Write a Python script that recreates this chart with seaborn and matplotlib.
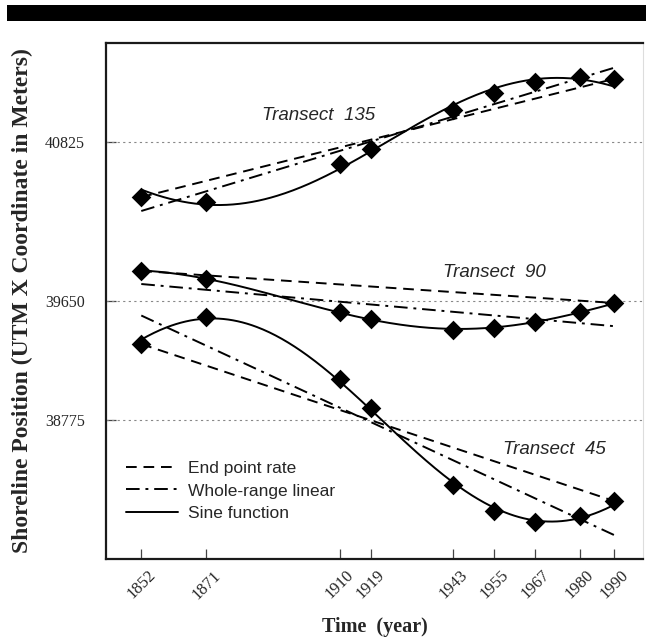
import numpy as np
import pandas as pd
import matplotlib
matplotlib.use("Agg")
import matplotlib.pyplot as plt
from matplotlib.lines import Line2D
from matplotlib.patches import Rectangle
import seaborn as sns

years = [1852, 1871, 1910, 1919, 1943, 1955, 1967, 1980, 1990]
transect_135 = [40419, 40383, 40663, 40773, 41061, 41186, 41267, 41304, 41290]
transect_90 = [39874, 39815, 39572, 39520, 39439, 39453, 39498, 39572, 39638]
transect_45 = [39335, 39535, 39077, 38864, 38296, 38104, 38023, 38067, 38178]
y_ticks = [38775, 39650, 40825]
series_labels = ["Transect 135", "Transect 90", "Transect 45"]
legend_labels = ["End point rate", "Whole-range linear", "Sine function"]

sns.set_theme(style="white")
plt.rcParams["font.family"] = ["Liberation Serif", "DejaVu Serif"]

fig = plt.figure(figsize=(6.46, 6.39), dpi=100)
ax = fig.add_axes([106/646, 1-559/639, (643-106)/646, (559-43)/639])

# header bar of the scanned page
fig.patches.append(Rectangle((7/646, 1-21/639), 1-7/646, 16/639, transform=fig.transFigure,
                             facecolor="black", edgecolor="none"))

all_series = [transect_135, transect_90, transect_45]


def joint_sine_fit(t, ys):
    """Sine fits sharing one period, chosen by least squares over all transects."""
    t = np.asarray(t, float) - 1920.0
    best = None
    for P in np.arange(140.0, 300.0, 0.5):
        w = 2*np.pi/P
        A = np.column_stack([np.sin(w*t), np.cos(w*t), np.ones_like(t)])
        coefs, r = [], 0.0
        for y in ys:
            c, *_ = np.linalg.lstsq(A, np.asarray(y, float), rcond=None)
            coefs.append(c)
            r += np.sum((A @ c - y)**2)
        if best is None or r < best[0]:
            best = (r, w, coefs)
    _, w, coefs = best
    funcs = []
    for c in coefs:
        funcs.append(lambda x, c=c: c[0]*np.sin(w*(np.asarray(x, float)-1920.0))
                     + c[1]*np.cos(w*(np.asarray(x, float)-1920.0)) + c[2])
    return funcs

sine_funcs = joint_sine_fit(years, all_series)

dash = (0, (5.5, 3.5))
dashdot = (0, (7, 3, 1.5, 3))
lw = 1.4

for vals, f in zip(all_series, sine_funcs):
    df = pd.DataFrame({"year": years, "pos": vals})
    # end point rate
    ends = df.iloc[[0, -1]]
    sns.lineplot(data=ends, x="year", y="pos", ax=ax, color="black", lw=lw,
                 linestyle=dash, zorder=3)
    # whole range linear regression
    sns.regplot(data=df, x="year", y="pos", ax=ax, scatter=False, ci=None,
                truncate=True, line_kws=dict(color="black", lw=lw, linestyle=dashdot, zorder=3))
    # sine function
    xs = np.linspace(years[0], years[-1], 300)
    sns.lineplot(x=xs, y=f(xs), ax=ax, color="black", lw=lw, zorder=4)
    sns.scatterplot(data=df, x="year", y="pos", ax=ax, marker="D", s=100,
                    color="black", edgecolor="black", linewidth=0, zorder=5)

ax.set_xlim(1841.7, 1998.5)
ax.set_ylim(37750, 41555)
ax.set_xticks(years)
ax.set_xticklabels([str(y) for y in years], rotation=45, ha="center", fontsize=12)
ax.set_yticks(y_ticks)
ax.set_yticklabels([str(v) for v in y_ticks], fontsize=11.5)
for v in y_ticks:
    ax.axhline(v, color="#888888", lw=0.8, linestyle=(0, (2, 3)), zorder=1)
ax.tick_params(axis="both", direction="in", length=7, width=0.9, color="#444444",
               bottom=True, left=True, pad=6)
ax.tick_params(axis="y", pad=15)

for s in ["left", "bottom", "top"]:
    ax.spines[s].set_color("#1a1a1a")
    ax.spines[s].set_linewidth(1.6)
ax.spines["right"].set_color("#dddddd")
ax.spines["right"].set_linewidth(0.8)

ax.set_xlabel("Time  (year)", fontsize=14.5, fontweight="bold", labelpad=10.5)
ax.set_ylabel("Shoreline Position (UTM X Coordinate in Meters)", fontsize=17,
              fontweight="bold", labelpad=8.5)

txt_kw = dict(fontsize=13.5, style="italic", family=["Liberation Sans"], va="center", ha="left")
ax.text(1887.2, 41024, "Transect  135", **txt_kw)
ax.text(1940.1, 39866, "Transect  90", **txt_kw)
ax.text(1957.6, 38561, "Transect  45", **txt_kw)

handles = [Line2D([], [], color="black", lw=lw, linestyle=dash),
           Line2D([], [], color="black", lw=lw, linestyle=dashdot),
           Line2D([], [], color="black", lw=lw)]
leg = ax.legend(handles, legend_labels, loc="upper left", bbox_to_anchor=(0.037, 0.19),
                frameon=False, borderpad=0, borderaxespad=0, handlelength=3.0,
                handletextpad=0.6, labelspacing=0.42,
                prop={"family": "Liberation Sans", "size": 12.5})

fig.savefig("out.png", dpi=100)
